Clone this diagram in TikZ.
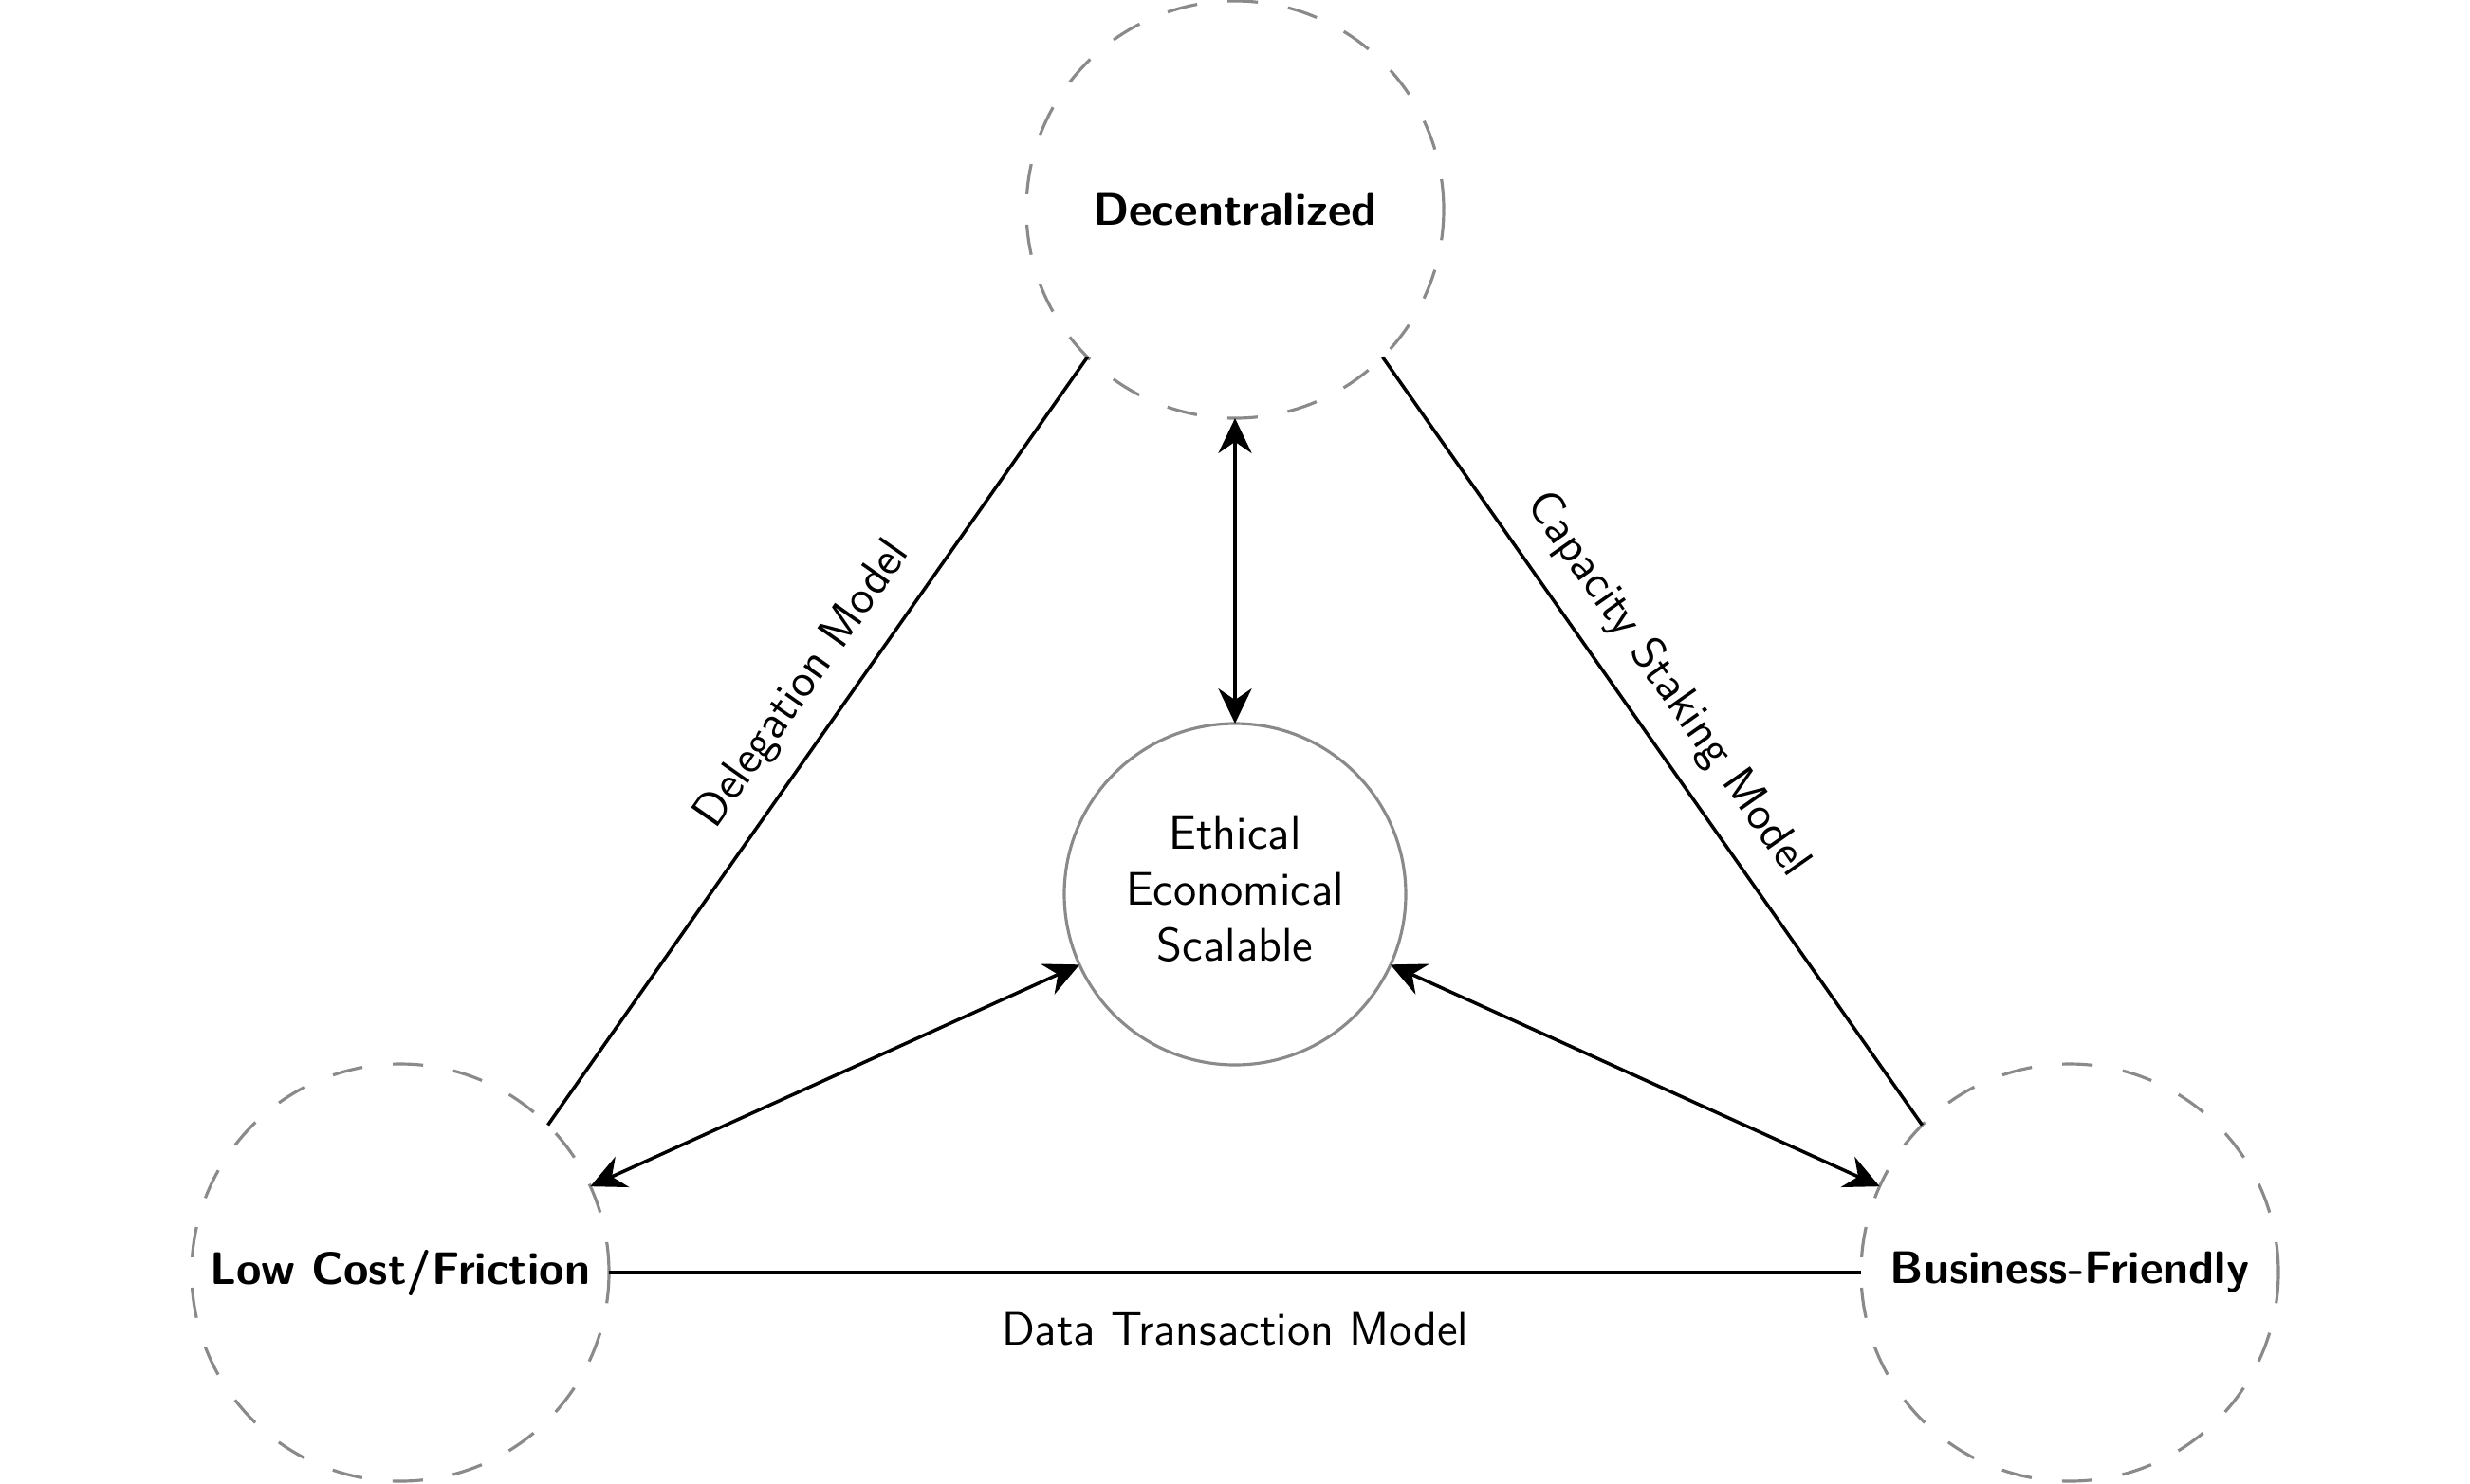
\documentclass[tikz,border=0pt]{standalone}
\usetikzlibrary{arrows.meta}
\begin{document}
\begin{tikzpicture}[
  font=\fontsize{14.1pt}{16.8pt}\selectfont\sffamily,
  outercirc/.style={circle, draw=black!46, line width=0.9pt, dash pattern=on 9.146pt off 9.146pt,
    minimum size=4.40cm, inner sep=0pt, outer sep=0pt, font=\fontsize{13.7pt}{16.5pt}\selectfont\sffamily\bfseries},
  innercirc/.style={circle, draw=black!46, line width=0.9pt, minimum size=3.60cm,
    inner sep=0pt, outer sep=0pt, align=center},
  conn/.style={line width=1pt, black},
  biarrow/.style={conn, {Stealth[length=10.5pt,width=10pt]}-{Stealth[length=10.5pt,width=10pt]}}
]
\useasboundingbox (0,0) rectangle (26.04,-15.64);
\node[outercirc] (dec) at (13.02,-2.21) {Decentralized};
\node[outercirc] (low) at (4.22,-13.42) {Low Cost/Friction};
\node[outercirc] (biz) at (21.82,-13.42) {Business-Friendly};
\node[innercirc] (eth) at (13.02,-9.43) {\raisebox{1.5pt}{\begin{tabular}{@{}c@{}}Ethical\\Economical\\Scalable\end{tabular}}};

\draw[conn] (low.north east) -- node[pos=0.54, above=3pt, sloped] {Delegation Model} (dec.south west);
\draw[conn] (dec.south east) -- node[pos=0.46, above=3pt, sloped] {Capacity Staking Model} (biz.north west);
\draw[conn] (low.east) -- node[below=8pt] {Data Transaction Model} (biz.west);

\draw[biarrow] (dec) -- (eth);
\draw[biarrow] (low) -- (eth);
\draw[biarrow] (biz) -- (eth);
\end{tikzpicture}
\end{document}
